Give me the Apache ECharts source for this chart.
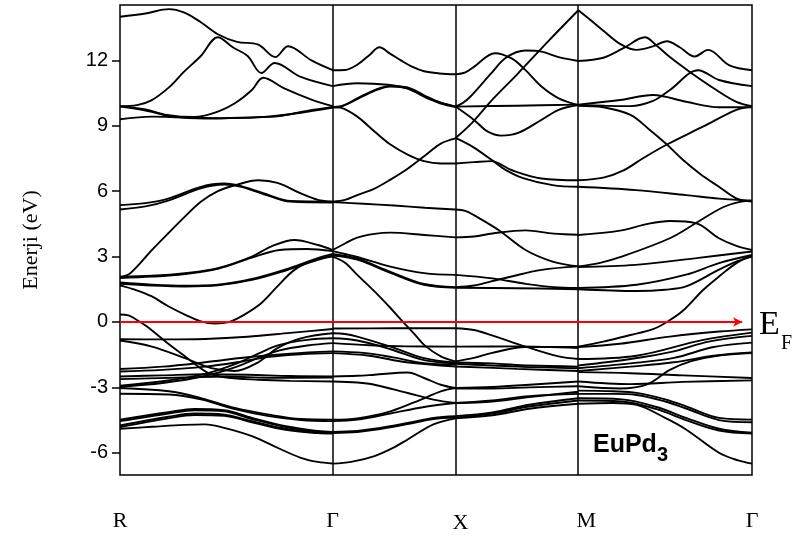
<!DOCTYPE html>
<html><head><meta charset="utf-8">
<script src="https://cdn.jsdelivr.net/npm/echarts@6/dist/echarts.min.js"></script>
<style>html,body{margin:0;padding:0;background:#fff}#c{width:798px;height:538px}</style>
</head><body><div id="c"></div>
<script>
// High-symmetry points (path distance) and labels
const kPoints = [0, 1.732, 2.732, 3.732, 5.146];
const kLabels = ['R', 'Γ', 'X', 'M', 'Γ'];
const yTicks = [-6, -3, 0, 3, 6, 9, 12];
const fermiLevel = 0;

// Bands per segment: [fraction along segment, energy eV]
const bandsRG = [
  [[0,14.0],[0.12,14.15],[0.23,14.35],[0.3,14.2],[0.38,13.75],[0.46,13.2],[0.55,12.85],[0.65,12.72],[0.73,12.15],[0.79,12.65],[0.9,12.0],[1,11.55]],
  [[0,9.9],[0.08,9.95],[0.15,10.18],[0.23,10.76],[0.3,11.47],[0.38,12.2],[0.46,13.06],[0.53,12.6],[0.6,12.2],[0.665,11.42],[0.727,11.88],[0.85,11.24],[1,10.82]],
  [[0,9.9],[0.12,9.75],[0.22,9.5],[0.35,9.4],[0.46,9.65],[0.54,10.03],[0.62,10.64],[0.673,11.2],[0.775,10.7],[0.9,10.2],[1,9.9]],
  [[0,9.88],[0.12,9.7],[0.25,9.42],[0.4,9.33],[0.6,9.38],[0.75,9.45],[0.88,9.68],[1,9.86]],
  [[0,9.3],[0.15,9.42],[0.3,9.38],[0.5,9.35],[0.7,9.42],[0.85,9.6],[1,9.84]],
  [[0,5.36],[0.12,5.45],[0.23,5.67],[0.38,6.2],[0.49,6.35],[0.57,6.23],[0.7,5.82],[0.8,5.55],[1,5.52]],
  [[0,5.16],[0.12,5.3],[0.23,5.58],[0.38,6.13],[0.49,6.3],[0.57,6.2],[0.7,5.78],[0.8,5.52],[1,5.48]],
  [[0,2.05],[0.05,2.25],[0.15,3.3],[0.227,4.07],[0.305,4.83],[0.38,5.51],[0.46,6.0],[0.54,6.27],[0.65,6.5],[0.74,6.38],[0.85,5.9],[0.93,5.6],[1,5.52]],
  [[0,2.08],[0.15,2.12],[0.305,2.24],[0.46,2.47],[0.62,3.0],[0.71,3.46],[0.82,3.76],[0.93,3.53],[1,3.3]],
  [[0,2.02],[0.15,2.08],[0.305,2.2],[0.46,2.44],[0.62,2.95],[0.75,3.3],[0.88,3.35],[1,3.25]],
  [[0,1.81],[0.15,1.71],[0.305,1.66],[0.46,1.71],[0.62,1.97],[0.775,2.4],[0.93,2.93],[1,3.12]],
  [[0,1.75],[0.15,1.67],[0.305,1.63],[0.46,1.68],[0.62,1.93],[0.775,2.35],[0.93,2.85],[1,3.05]],
  [[0,1.68],[0.07,1.48],[0.15,1.17],[0.227,0.72],[0.305,0.34],[0.38,0.03],[0.446,-0.07],[0.51,-0.01],[0.585,0.34],[0.665,0.87],[0.74,1.63],[0.82,2.39],[0.915,2.85],[1,3.0]],
  [[0,0.34],[0.04,0.3],[0.07,0.15],[0.125,-0.2],[0.227,-1.0],[0.305,-1.57],[0.415,-2.35],[0.5,-2.55],[0.65,-2.65],[0.8,-2.7],[1,-2.73]],
  [[0,-0.79],[0.2,-0.8],[0.4,-0.78],[0.6,-0.68],[0.8,-0.5],[1,-0.32]],
  [[0,-0.85],[0.15,-1.13],[0.305,-1.66],[0.43,-2.12],[0.54,-2.25],[0.65,-1.85],[0.74,-1.2],[0.85,-0.75],[1,-0.52]],
  [[0,-2.16],[0.2,-2.05],[0.4,-1.85],[0.6,-1.62],[0.8,-1.45],[1,-1.35]],
  [[0,-2.27],[0.2,-2.2],[0.4,-2.05],[0.55,-1.85],[0.7,-1.6],[0.85,-1.48],[1,-1.43]],
  [[0,-2.5],[0.2,-2.45],[0.4,-2.4],[0.6,-2.42],[0.8,-2.48],[1,-2.5]],
  [[0,-2.62],[0.3,-2.55],[0.5,-2.5],[0.7,-2.56],[1,-2.55]],
  [[0,-2.97],[0.2,-2.8],[0.4,-2.48],[0.55,-2.05],[0.65,-1.65],[0.75,-1.3],[0.88,-1.08],[1,-0.97]],
  [[0,-2.92],[0.2,-2.72],[0.4,-2.38],[0.55,-1.9],[0.65,-1.45],[0.75,-1.05],[0.88,-0.82],[1,-0.75]],
  [[0,-3.03],[0.23,-3.18],[0.38,-3.49],[0.54,-3.94],[0.7,-4.25],[0.85,-4.45],[1,-4.48]],
  [[0,-3.29],[0.23,-3.33],[0.38,-3.55],[0.54,-4.0],[0.7,-4.32],[0.85,-4.5],[1,-4.55]],
  [[0,-4.48],[0.227,-4.14],[0.35,-3.99],[0.49,-4.05],[0.62,-4.4],[0.78,-4.78],[0.93,-5.0],[1,-5.05]],
  [[0,-4.55],[0.227,-4.2],[0.35,-4.05],[0.49,-4.1],[0.62,-4.45],[0.78,-4.82],[0.93,-5.04],[1,-5.08]],
  [[0,-4.75],[0.227,-4.35],[0.35,-4.2],[0.49,-4.25],[0.62,-4.55],[0.78,-4.9],[0.93,-5.08],[1,-5.1]],
  [[0,-4.82],[0.227,-4.42],[0.35,-4.27],[0.49,-4.3],[0.62,-4.6],[0.78,-4.95],[0.93,-5.1],[1,-5.12]],
  [[0,-4.9],[0.15,-4.81],[0.3,-4.72],[0.4,-4.7],[0.49,-4.86],[0.62,-5.24],[0.74,-5.77],[0.85,-6.23],[0.93,-6.42],[1,-6.49]]
];
const bandsGX = [
  [[0,11.55],[0.1,11.56],[0.2,11.8],[0.3,12.25],[0.38,12.6],[0.47,12.3],[0.555,12.0],[0.65,11.7],[0.744,11.5],[0.87,11.4],[1,11.36]],
  [[0,10.82],[0.2,10.95],[0.45,10.88],[0.61,10.7],[0.8,10.2],[1,9.88]],
  [[0,9.86],[0.07,9.9],[0.2,10.26],[0.34,10.64],[0.47,10.83],[0.61,10.76],[0.744,10.4],[0.88,10.06],[1,9.88]],
  [[0,9.84],[0.07,9.88],[0.2,10.22],[0.34,10.6],[0.47,10.8],[0.61,10.72],[0.744,10.35],[0.88,10.02],[1,9.86]],
  [[0,9.86],[0.07,9.82],[0.2,9.42],[0.34,8.74],[0.47,8.14],[0.61,7.68],[0.744,7.38],[0.88,7.27],[1,7.27]],
  [[0,5.52],[0.1,5.6],[0.2,5.82],[0.34,6.12],[0.47,6.53],[0.61,7.03],[0.744,7.6],[0.88,8.18],[1,8.42]],
  [[0,5.5],[0.25,5.42],[0.5,5.34],[0.75,5.24],[1,5.16]],
  [[0,3.3],[0.1,3.6],[0.2,3.87],[0.34,4.04],[0.47,4.1],[0.744,3.99],[1,3.88]],
  [[0,3.25],[0.1,3.12],[0.2,2.98],[0.47,2.54],[0.744,2.24],[1,2.16]],
  [[0,3.12],[0.2,2.9],[0.47,2.3],[0.744,1.74],[1,1.6]],
  [[0,3.05],[0.2,2.86],[0.47,2.25],[0.744,1.7],[1,1.57]],
  [[0,3.0],[0.1,2.72],[0.2,2.16],[0.34,1.4],[0.47,0.64],[0.57,0.02],[0.66,-0.52],[0.744,-1.05],[0.88,-1.58],[1,-1.81]],
  [[0,-0.3],[0.5,-0.29],[1,-0.29]],
  [[0,-0.52],[0.1,-0.55],[0.2,-0.67],[0.47,-1.13],[0.744,-1.66],[1,-1.86]],
  [[0,-0.97],[0.3,-1.07],[0.6,-1.12],[1,-1.13]],
  [[0,-0.75],[0.2,-0.85],[0.47,-1.25],[0.744,-1.75],[1,-1.9]],
  [[0,-1.35],[0.25,-1.42],[0.47,-1.6],[0.744,-1.89],[1,-1.95]],
  [[0,-1.43],[0.3,-1.55],[0.6,-1.85],[1,-2.04]],
  [[0,-2.5],[0.2,-2.47],[0.34,-2.42],[0.61,-2.32],[0.744,-2.57],[0.88,-2.88],[1,-3.03]],
  [[0,-2.73],[0.2,-2.78],[0.34,-2.88],[0.61,-3.26],[0.82,-3.56],[1,-3.72]],
  [[0,-4.48],[0.2,-4.42],[0.47,-4.1],[0.744,-3.5],[0.88,-3.18],[1,-3.03]],
  [[0,-4.55],[0.2,-4.48],[0.47,-4.2],[0.744,-3.9],[1,-3.72]],
  [[0,-5.05],[0.2,-5.0],[0.34,-4.9],[0.61,-4.63],[0.82,-4.4],[1,-4.32]],
  [[0,-5.1],[0.2,-5.05],[0.34,-4.95],[0.61,-4.68],[0.82,-4.45],[1,-4.38]],
  [[0,-6.5],[0.15,-6.42],[0.34,-6.15],[0.5,-5.75],[0.61,-5.39],[0.82,-4.7],[1,-4.42]]
];
const bandsXM = [
  [[0,11.36],[0.08,11.45],[0.15,11.7],[0.32,12.33],[0.46,12.08],[0.57,11.55],[0.7,10.8],[0.84,10.26],[1,9.95]],
  [[0,9.88],[0.06,10.05],[0.12,10.33],[0.29,11.4],[0.41,12.12],[0.57,12.45],[0.7,12.4],[0.84,12.15],[1,11.97]],
  [[0,8.44],[0.12,9.05],[0.3,10.2],[0.5,11.35],[0.75,12.85],[1,14.3]],
  [[0,9.88],[0.5,9.92],[1,9.97]],
  [[0,9.88],[0.15,9.27],[0.26,8.74],[0.37,8.55],[0.51,8.67],[0.7,9.27],[0.84,9.73],[1,9.95]],
  [[0,8.44],[0.15,8.0],[0.29,7.45],[0.4,7.0],[0.55,6.6],[0.79,6.28],[1,6.2]],
  [[0,7.27],[0.15,7.33],[0.29,7.38],[0.46,6.96],[0.7,6.58],[1,6.5]],
  [[0,5.16],[0.08,5.1],[0.15,4.9],[0.35,4.22],[0.57,3.3],[0.79,2.77],[1,2.55]],
  [[0,3.88],[0.15,3.92],[0.3,4.06],[0.57,4.2],[0.8,4.05],[1,4.0]],
  [[0,2.16],[0.3,2.0],[0.57,1.75],[0.8,1.6],[1,1.56]],
  [[0,1.6],[0.15,1.67],[0.29,1.86],[0.43,2.05],[0.7,2.39],[1,2.55]],
  [[0,1.57],[0.5,1.55],[1,1.5]],
  [[0,-0.29],[0.15,-0.37],[0.29,-0.6],[0.57,-1.13],[0.84,-1.58],[1,-1.7]],
  [[0,-1.81],[0.15,-1.65],[0.29,-1.43],[0.57,-1.15],[1,-1.15]],
  [[0,-1.13],[0.5,-1.12],[1,-1.2]],
  [[0,-1.86],[0.3,-1.9],[0.6,-2.0],[1,-2.05]],
  [[0,-1.92],[0.5,-2.05],[1,-2.12]],
  [[0,-2.04],[0.5,-2.15],[1,-2.25]],
  [[0,-3.03],[0.3,-2.98],[0.6,-2.88],[1,-2.73]],
  [[0,-3.05],[0.3,-3.05],[0.6,-3.0],[1,-2.95]],
  [[0,-3.72],[0.3,-3.65],[0.6,-3.45],[1,-3.2]],
  [[0,-3.72],[0.3,-3.6],[0.6,-3.4],[1,-3.3]],
  [[0,-4.32],[0.3,-4.15],[0.6,-3.8],[1,-3.5]],
  [[0,-4.38],[0.3,-4.2],[0.6,-3.88],[1,-3.6]],
  [[0,-4.42],[0.3,-4.28],[0.6,-3.98],[1,-3.75]]
];
const bandsMG = [
  [[0,14.3],[0.07,13.85],[0.144,13.36],[0.24,12.76],[0.335,12.48],[0.43,12.64],[0.51,12.88],[0.584,12.6],[0.67,12.18],[0.747,12.48],[0.87,11.77],[1,11.55]],
  [[0,11.97],[0.144,12.12],[0.26,12.56],[0.383,13.06],[0.45,12.68],[0.527,12.15],[0.642,11.47],[0.795,10.64],[0.91,10.1],[1,9.9]],
  [[0,9.97],[0.24,10.18],[0.43,10.41],[0.62,10.1],[0.81,9.85],[1,9.85]],
  [[0,9.95],[0.15,9.92],[0.3,9.9],[0.43,10.14],[0.527,10.64],[0.69,11.55],[0.81,11.1],[1,10.82]],
  [[0,9.92],[0.144,9.85],[0.3,9.5],[0.41,8.82],[0.51,8.14],[0.6,7.45],[0.7,6.8],[0.81,6.2],[0.91,5.67],[1,5.52]],
  [[0,6.5],[0.144,6.62],[0.26,6.95],[0.37,7.5],[0.51,8.14],[0.72,8.97],[0.91,9.73],[1,9.88]],
  [[0,6.2],[0.33,6.05],[0.62,5.82],[0.81,5.66],[1,5.56]],
  [[0,3.99],[0.24,4.19],[0.4,4.5],[0.527,4.63],[0.68,4.52],[0.81,3.84],[0.91,3.49],[1,3.3]],
  [[0,2.55],[0.12,2.7],[0.24,2.97],[0.527,3.84],[0.68,4.55],[0.83,5.25],[0.93,5.51],[1,5.56]],
  [[0,2.52],[0.33,2.62],[0.68,2.93],[1,3.23]],
  [[0,1.56],[0.335,1.71],[0.62,2.17],[0.81,2.7],[1,3.07]],
  [[0,1.5],[0.335,1.42],[0.5,1.48],[0.62,1.63],[0.81,2.4],[0.92,2.8],[1,3.0]],
  [[0,-1.13],[0.144,-0.9],[0.3,-0.6],[0.43,-0.33],[0.51,0.0],[0.6,0.5],[0.72,1.48],[0.82,2.15],[0.91,2.7],[1,3.07]],
  [[0,-1.15],[0.24,-1.0],[0.527,-0.67],[0.81,-0.44],[1,-0.34]],
  [[0,-1.7],[0.335,-1.55],[0.72,-0.82],[1,-0.49]],
  [[0,-2.0],[0.3,-1.7],[0.55,-1.35],[0.75,-0.9],[1,-0.64]],
  [[0,-2.12],[0.3,-1.9],[0.55,-1.65],[0.78,-1.15],[1,-0.95]],
  [[0,-2.25],[0.3,-2.05],[0.55,-1.85],[0.78,-1.55],[1,-1.4]],
  [[0,-2.95],[0.24,-3.05],[0.4,-2.85],[0.527,-2.2],[0.65,-1.8],[0.8,-1.55],[1,-1.43]],
  [[0,-2.3],[0.3,-2.35],[0.6,-2.45],[1,-2.57]],
  [[0,-2.73],[0.3,-2.85],[0.6,-2.75],[1,-2.68]],
  [[0,-3.15],[0.2,-3.18],[0.335,-3.25],[0.5,-3.55],[0.62,-3.87],[0.81,-4.4],[1,-4.48]],
  [[0,-3.3],[0.2,-3.3],[0.335,-3.35],[0.5,-3.65],[0.62,-3.97],[0.81,-4.5],[1,-4.6]],
  [[0,-3.5],[0.25,-3.55],[0.45,-3.9],[0.62,-4.4],[0.81,-4.9],[1,-5.08]],
  [[0,-3.6],[0.25,-3.65],[0.45,-4.0],[0.62,-4.5],[0.81,-4.98],[1,-5.12]],
  [[0,-3.75],[0.2,-3.72],[0.335,-3.8],[0.5,-4.4],[0.62,-4.93],[0.81,-6.0],[0.92,-6.35],[1,-6.5]]
];

const segments = [bandsRG, bandsGX, bandsXM, bandsMG];
const series = [];
segments.forEach((bands, i) => {
  const k0 = kPoints[i], k1 = kPoints[i + 1];
  bands.forEach(b => {
    series.push({
      type: 'line', silent: true, symbol: 'none', smooth: 0.35, z: 2,
      lineStyle: { color: '#000', width: 1.9 },
      data: b.map(p => [k0 + p[0] * (k1 - k0), p[1]])
    });
  });
});
// High-symmetry vertical lines
series.push({
  type: 'line', silent: true, symbol: 'none', data: [], z: 3,
  markLine: {
    silent: true, symbol: ['none', 'none'], label: { show: false }, animation: false,
    lineStyle: { color: '#000', width: 1.5, type: 'solid' },
    data: kPoints.slice(1, 4).map(k => ({ xAxis: k }))
  }
});
// Fermi level arrow
series.push({
  type: 'line', silent: true, symbol: 'none', data: [], z: 5,
  markLine: {
    silent: true, symbol: ['none', 'arrow'], symbolSize: [7, 9], label: { show: false }, animation: false,
    lineStyle: { color: '#ff0000', width: 2, type: 'solid' },
    data: [[{ coord: [kPoints[0], fermiLevel] }, { coord: [kPoints[4] - 0.08, fermiLevel] }]]
  }
});

const chart = echarts.init(document.getElementById('c'), null, { renderer: 'canvas' });
chart.setOption({
  animation: false,
  backgroundColor: '#fff',
  grid: { left: 120, right: 46, top: 5, bottom: 63, show: true, borderColor: '#000', borderWidth: 1.5, backgroundColor: 'transparent' },
  xAxis: {
    type: 'value', min: kPoints[0], max: kPoints[4],
    axisLine: { show: false }, axisTick: { show: false }, splitLine: { show: false },
    axisLabel: {
      customValues: kPoints, margin: 35, color: '#000',
      fontFamily: 'Liberation Serif', fontSize: 22,
      formatter: v => {
        const i = kPoints.findIndex(k => Math.abs(k - v) < 1e-6);
        const t = i >= 0 ? kLabels[i] : '';
        if (i === 2) return '{x|' + t + '}';
        if (i === 3) return '{m|' + t + '}';
        return t;
      },
      rich: {
        x: { fontFamily: 'Liberation Serif', fontSize: 22, color: '#000', padding: [2, 0, 0, 10] },
        m: { fontFamily: 'Liberation Serif', fontSize: 22, color: '#000', padding: [0, 0, 0, 16] }
      }
    }
  },
  yAxis: {
    type: 'value', min: -7.02, max: 14.54,
    axisLine: { show: false }, splitLine: { show: false },
    axisTick: { show: true, customValues: yTicks, length: 8, lineStyle: { color: '#000', width: 1.5 } },
    axisLabel: { customValues: yTicks, margin: 12, color: '#000', fontFamily: 'Liberation Sans', fontSize: 20 },
    name: 'Enerji (eV)', nameLocation: 'middle', nameGap: 78,
    nameTextStyle: { fontFamily: 'Liberation Serif', fontSize: 22, color: '#000' }
  },
  graphic: [
    { type: 'text', left: 759, top: 308, silent: true, style: { text: 'E', fontFamily: 'Liberation Serif', fontSize: 34, fill: '#000' } },
    { type: 'text', left: 781, top: 334, silent: true, style: { text: 'F', fontFamily: 'Liberation Serif', fontSize: 20, fill: '#000' } },
    { type: 'text', left: 593, top: 433, silent: true, style: { text: 'EuPd', fontFamily: 'Liberation Sans', fontWeight: 'bold', fontSize: 25, fill: '#000' } },
    { type: 'text', left: 657, top: 445, silent: true, style: { text: '3', fontFamily: 'Liberation Sans', fontWeight: 'bold', fontSize: 20, fill: '#000' } }
  ],
  series: series
});
</script>
</body></html>
